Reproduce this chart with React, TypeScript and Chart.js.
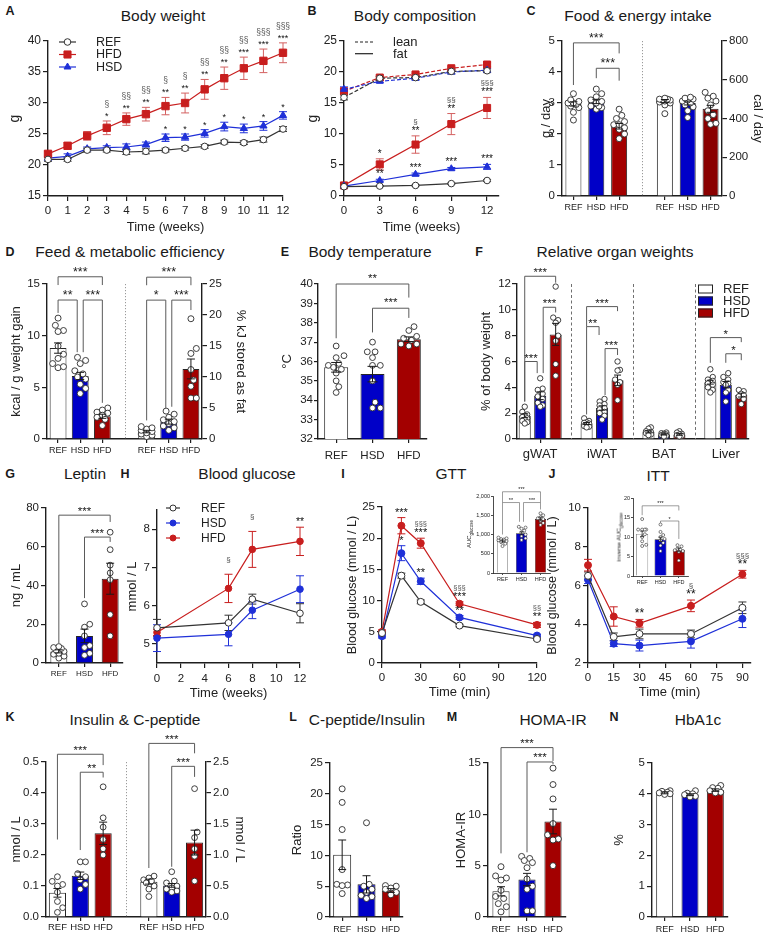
import React, { useEffect, useRef } from 'react';
import { Chart, registerables } from 'chart.js';

Chart.register(...registerables);

const FONT = '"Liberation Sans", Arial, Helvetica, sans-serif';
Chart.defaults.font.family = FONT;
Chart.defaults.color = '#222';

const INK = '#1e1e1e';
const BAR_REF = '#ffffff';
const BAR_HSD = '#0000c8';
const BAR_HFD = '#a30000';
const BAR_HFD_DARK = '#8a0000';
const LN_REF = '#333333';
const LN_HSD = '#1f30d8';
const LN_HFD = '#c81e1e';
const DIET_COLORS = [BAR_REF, BAR_HSD, BAR_HFD];

// ---------------- DATA ----------------
const diets = ['REF', 'HSD', 'HFD'];
const splitLabels = ['REF', 'HSD', 'HFD', '', 'REF', 'HSD', 'HFD'];

// A  Body weight
const weeksA = [0, 1, 2, 3, 4, 5, 6, 7, 8, 9, 10, 11, 12];
const bwREF = [20.9, 20.9, 22.4, 22.4, 22.1, 22.2, 22.4, 22.7, 23.0, 23.7, 23.6, 24.1, 25.8];
const bwREFsem = [0.3, 0.3, 0.3, 0.3, 0.4, 0.4, 0.3, 0.3, 0.3, 0.3, 0.3, 0.4, 0.4];
const bwHFD = [21.8, 23.1, 24.7, 26.0, 27.4, 28.2, 29.5, 30.0, 32.2, 34.0, 35.6, 36.8, 38.1];
const bwHFDsem = [0.4, 0.5, 0.7, 1.1, 1.0, 1.1, 1.4, 1.6, 1.6, 1.8, 1.8, 1.9, 1.6];
const bwHSD = [21.1, 21.4, 22.6, 22.8, 22.9, 23.3, 24.4, 24.5, 25.1, 26.2, 25.9, 26.3, 28.0];
const bwHSDsem = [0.3, 0.4, 0.3, 0.3, 0.5, 0.4, 0.6, 0.5, 0.6, 0.7, 0.7, 0.7, 0.6];
const bwStarHFD = ['', '', '', '*', '**', '**', '**', '**', '**', '**', '***', '***', '***'];
const bwSectHFD = ['', '', '', '§', '§§', '§§', '§', '§', '§§', '§§', '§§', '§§§', '§§§'];
const bwStarHSD = ['', '', '', '', '', '', '*', '*', '*', '*', '*', '*', '*'];

// B  Body composition
const weeksB = [0, 3, 6, 9, 12];
const leanREF = [15.9, 19.0, 19.1, 20.1, 20.2];
const leanREFsem = [0.4, 0.3, 0.3, 0.4, 0.3];
const leanHSD = [17.2, 18.5, 19.0, 20.0, 20.3];
const leanHSDsem = [0.4, 0.2, 0.3, 0.3, 0.3];
const leanHFD = [16.9, 19.1, 19.6, 20.6, 21.2];
const leanHFDsem = [0.3, 0.2, 0.2, 0.2, 0.3];
const fatREF = [1.5, 1.6, 1.7, 2.0, 2.5];
const fatREFsem = [0.1, 0.1, 0.1, 0.1, 0.15];
const fatHSD = [1.6, 2.5, 3.5, 4.4, 4.7];
const fatHSDsem = [0.1, 0.2, 0.2, 0.2, 0.4];
const fatHFD = [1.7, 5.1, 8.3, 11.6, 14.2];
const fatHFDsem = [0.2, 0.9, 1.4, 1.7, 1.7];
const fatStarHFD = ['', '*', '**', '**', '***'];
const fatSectHFD = ['', '', '§', '§§', '§§§'];
const fatStarHSD = ['', '**', '***', '***', '***'];

// C  Food & energy intake
const foodG = [2.97, 3.05, 2.25];
const foodGsem = [0.07, 0.07, 0.09];
const foodGDots = [
  [2.45, 2.7, 2.85, 2.9, 2.95, 3.0, 3.0, 3.05, 3.1, 3.3],
  [2.8, 2.85, 2.9, 2.9, 3.0, 3.05, 3.1, 3.2, 3.3, 3.45],
  [1.85, 2.0, 2.15, 2.2, 2.3, 2.3, 2.4, 2.5, 2.6, 2.8],
];
const foodCal = [490, 480, 450];
const foodCalsem = [8, 10, 18];
const foodCalDots = [
  [425, 470, 480, 485, 490, 495, 495, 500, 500, 505],
  [405, 440, 460, 470, 480, 490, 495, 500, 505, 510],
  [370, 375, 400, 420, 440, 470, 490, 505, 515, 535],
];
const cBrackets = [
  { a: [0, 0], b: [0, 2], y: 4.94, la: 3.58, lb: 4.6, t: '***' },
  { a: [0, 1], b: [0, 2], y: 4.12, la: 3.8, lb: 3.72, t: '***' },
];

// D  Feed & metabolic efficiency
const feedEff = [8.8, 6.1, 2.2];
const feedEffsem = [0.5, 0.35, 0.2];
const feedEffDots = [
  [11.7, 11.0, 10.5, 10.4, 9.0, 8.2, 7.8, 7.3, 6.9, 7.0],
  [7.9, 7.6, 7.3, 6.6, 6.3, 6.0, 5.8, 5.3, 4.9, 4.4],
  [3.0, 2.8, 2.6, 2.5, 2.3, 2.1, 1.9, 1.3],
];
const kjFat = [1.2, 2.8, 11.3];
const kjFatsem = [0.2, 0.4, 1.6];
const kjFatDots = [
  [0.4, 0.6, 0.8, 1.0, 1.2, 1.4, 1.6, 1.8, 2.0],
  [1.4, 1.8, 2.1, 2.5, 2.8, 3.1, 3.5, 4.0, 4.5],
  [19.4, 14.6, 13.8, 11.2, 9.5, 8.5, 6.6, 6.6],
];
const dBrackets = [
  { a: [0, 0], b: [0, 2], y: 15.7, la: 14.9, lb: 14.9, t: '***' },
  { a: [0, 0], b: [0, 1], y: 13.45, la: 12.2, lb: 8.4, t: '**' },
  { a: [0, 1], b: [0, 2], y: 13.45, la: 8.4, lb: 3.5, t: '***' },
  { a: [1, 4], b: [1, 6], y: 26.1, la: 24.8, lb: 24.8, t: '***', ax: 'y1' },
  { a: [1, 4], b: [1, 5], y: 22.4, la: 3.0, lb: 5.0, t: '*', ax: 'y1' },
  { a: [1, 5], b: [1, 6], y: 22.4, la: 5.2, lb: 20.8, t: '***', ax: 'y1' },
];

// E  Body temperature
const temp = [35.7, 35.35, 37.15];
const tempsem = [0.25, 0.4, 0.12];
const tempDots = [
  [36.8, 36.3, 36.2, 35.9, 35.8, 35.7, 35.6, 35.4, 35.0, 34.7, 34.4],
  [37.0, 36.5, 36.5, 36.2, 35.8, 35.8, 35.0, 33.9, 33.6, 33.6],
  [37.8, 37.6, 37.3, 37.2, 37.1, 36.9, 36.9, 36.8],
];
const eBrackets = [
  { a: [0, 0], b: [0, 2], y: 40.0, la: 37.2, lb: 39.3, t: '**' },
  { a: [0, 1], b: [0, 2], y: 38.75, la: 37.5, lb: 38.25, t: '***' },
];

// F  Relative organ weights
const organs = ['gWAT', 'iWAT', 'BAT', 'Liver'];
const orgREF = [1.8, 1.2, 0.55, 4.4];
const orgREFsem = [0.15, 0.08, 0.08, 0.15];
const orgHSD = [3.35, 2.4, 0.35, 4.2];
const orgHSDsem = [0.3, 0.17, 0.04, 0.25];
const orgHFD = [8.1, 4.55, 0.35, 3.4];
const orgHFDsem = [0.85, 0.4, 0.06, 0.15];
const orgREFDots = [
  [2.5, 2.1, 1.9, 1.8, 1.7, 1.6, 1.5, 1.4, 1.3, 1.2],
  [1.6, 1.4, 1.3, 1.25, 1.2, 1.1, 1.0, 0.95, 0.9],
  [0.9, 0.8, 0.6, 0.55, 0.5, 0.45, 0.35, 0.3],
  [5.4, 4.8, 4.6, 4.5, 4.4, 4.3, 4.2, 4.0, 3.8, 3.6],
];
const orgHSDDots = [
  [4.7, 3.9, 3.8, 3.5, 3.3, 3.1, 2.8, 2.6, 2.5],
  [3.1, 2.9, 2.7, 2.6, 2.4, 2.3, 2.1, 2.0, 1.8, 1.5],
  [0.5, 0.45, 0.4, 0.35, 0.3, 0.3, 0.25, 0.2],
  [5.1, 4.8, 4.6, 4.4, 4.3, 4.2, 3.8, 3.6, 2.9],
];
const orgHFDDots = [
  [11.8, 9.4, 9.2, 9.0, 8.0, 7.6, 5.8, 4.9],
  [6.0, 5.35, 5.3, 4.6, 4.4, 4.2, 3.0],
  [0.6, 0.5, 0.4, 0.35, 0.3, 0.25, 0.2],
  [3.8, 3.7, 3.5, 3.4, 3.3, 3.1, 2.7],
];
// bracket ends as [diet index, organ index]
const fBrackets = [
  { a: [0, 0], b: [2, 0], y: 12.6, la: 2.9, lb: 12.1, t: '***' },
  { a: [1, 0], b: [2, 0], y: 10.2, la: 5.1, lb: 9.8, t: '***' },
  { a: [0, 0], b: [1, 0], y: 6.0, la: 2.9, lb: 5.1, t: '***' },
  { a: [0, 1], b: [2, 1], y: 10.25, la: 8.7, lb: 9.9, t: '***' },
  { a: [0, 1], b: [1, 1], y: 8.7, la: 1.9, lb: 8.05, t: '**' },
  { a: [1, 1], b: [2, 1], y: 7.0, la: 3.4, lb: 6.5, t: '***' },
  { a: [0, 3], b: [2, 3], y: 7.85, la: 5.9, lb: 7.5, t: '*' },
  { a: [1, 3], b: [2, 3], y: 6.6, la: 5.9, lb: 6.1, t: '*' },
];

// G  Leptin
const leptin = [6.0, 14.0, 43.5];
const leptinsem = [0.8, 3.5, 8.0];
const leptinDots = [
  [2.5, 3.5, 4.5, 5.0, 6.0, 6.5, 7.5, 8.0, 8.5],
  [30.5, 20.0, 18.5, 14.0, 9.0, 8.0, 5.0, 4.0],
  [67.5, 58.5, 50.5, 46.5, 43.0, 25.0, 14.0],
];
const gBrackets = [
  { a: [0, 0], b: [0, 2], y: 76.3, la: 10.3, lb: 72.8, t: '***' },
  { a: [0, 1], b: [0, 2], y: 65, la: 33.5, lb: 62.5, t: '***' },
];

// H  Blood glucose
const weeksH = [0, 6, 8, 12];
const bgREF = [5.42, 5.55, 6.17, 5.8];
const bgREFsem = [0.22, 0.2, 0.13, 0.25];
const bgHSD = [5.15, 5.25, 5.88, 6.43];
const bgHSDsem = [0.35, 0.3, 0.22, 0.35];
const bgHFD = [5.3, 6.45, 7.47, 7.68];
const bgHFDsem = [0.08, 0.37, 0.47, 0.37];
const bgStarHFD = ['', '', '', '**'];
const bgSectHFD = ['', '§', '§', ''];

// I  GTT
const tGTT = [0, 15, 30, 60, 120];
const gttREF = [4.8, 14.0, 9.8, 6.0, 3.85];
const gttREFsem = [0.2, 0.4, 0.3, 0.2, 0.2];
const gttHSD = [4.3, 17.6, 13.1, 7.3, 4.4];
const gttHSDsem = [0.3, 1.2, 0.5, 0.3, 0.2];
const gttHFD = [5.0, 22.0, 19.2, 9.5, 6.1];
const gttHFDsem = [0.3, 1.3, 0.8, 0.3, 0.4];
const gttStarHFD = ['', '***', '***', '***', '**'];
const gttSectHFD = ['', '', '§§§', '§§§', '§§'];
const gttStarHSD = ['', '*', '**', '**', ''];
const aucGTT = [830, 1030, 1400];
const aucGTTsem = [30, 40, 50];
const aucGTTDots = [
  [700, 760, 800, 830, 850, 870, 880, 900, 920],
  [860, 900, 960, 1000, 1050, 1100, 1150, 1180, 1200],
  [1250, 1300, 1350, 1400, 1420, 1450, 1500, 1550],
];
const iInBrackets = [
  { a: [0, 0], b: [0, 2], y: 2110, la: 1830, lb: 1830, t: '***' },
  { a: [0, 0], b: [0, 1], y: 1830, la: 1000, lb: 1330, t: '**' },
  { a: [0, 1], b: [0, 2], y: 1830, la: 1330, lb: 1650, t: '***' },
];

// J  ITT
const tITT = [0, 15, 30, 60, 90];
const ittREF = [6.5, 3.35, 3.5, 3.5, 4.85];
const ittREFsem = [0.2, 0.2, 0.25, 0.2, 0.3];
const ittHSD = [6.3, 3.0, 2.9, 3.12, 4.28];
const ittHSDsem = [0.2, 0.15, 0.28, 0.35, 0.45];
const ittHFD = [7.05, 4.4, 4.05, 4.95, 6.58];
const ittHFDsem = [0.3, 0.5, 0.2, 0.3, 0.2];
const ittStarHFD = ['', '', '**', '**', '**'];
const ittSectHFD = ['', '', '', '§', '§§§'];
const invAUC = [10.8, 9.4, 6.7];
const invAUCsem = [0.7, 0.55, 0.45];
const invAUCDots = [
  [14.6, 11.9, 11.9, 11.9, 11.9, 10.7, 10.0, 8.9, 8.0, 7.7],
  [13.2, 11.3, 10.5, 10.0, 9.5, 9.1, 8.5, 7.8, 6.4],
  [7.9, 7.6, 7.0, 6.8, 6.6, 6.4, 6.2, 4.0],
];
const jInBrackets = [
  { a: [0, 0], b: [0, 2], y: 18.0, la: 15.6, lb: 16.8, t: '***' },
  { a: [0, 1], b: [0, 2], y: 14.1, la: 13.6, lb: 9.5, t: '*' },
];

// K  Insulin & C-peptide
const insulin = [0.078, 0.133, 0.27];
const insulinsem = [0.014, 0.012, 0.036];
const insulinDots = [
  [0.13, 0.115, 0.105, 0.1, 0.08, 0.05, 0.03, 0.015],
  [0.178, 0.178, 0.14, 0.13, 0.12, 0.105, 0.09],
  [0.42, 0.32, 0.29, 0.25, 0.22, 0.2],
];
const cpep = [0.57, 0.51, 1.2];
const cpepsem = [0.04, 0.03, 0.2];
const cpepDots = [
  [0.66, 0.63, 0.6, 0.58, 0.55, 0.5, 0.45, 0.33],
  [0.73, 0.58, 0.55, 0.5, 0.47, 0.45, 0.42, 0.4],
  [2.07, 1.37, 1.28, 1.1, 0.98, 0.58],
];
const kBrackets = [
  { a: [0, 0], b: [0, 2], y: 0.525, la: 0.25, lb: 0.49, t: '***' },
  { a: [0, 1], b: [0, 2], y: 0.467, la: 0.216, lb: 0.45, t: '**' },
  { a: [1, 4], b: [1, 6], y: 2.8, la: 0.79, lb: 2.64, t: '***', ax: 'y1' },
  { a: [1, 5], b: [1, 6], y: 2.43, la: 0.81, lb: 2.26, t: '***', ax: 'y1' },
];

// L  C-peptide/Insulin
const ratio = [10.1, 5.3, 4.3];
const ratiosem = [2.4, 1.4, 0.3];
const ratioDots = [
  [20.8, 18.6, 14.2, 7.7, 5.3, 5.2, 5.1, 3.8],
  [15.3, 5.3, 5.0, 4.5, 4.0, 3.5, 3.3, 3.0],
  [5.1, 5.0, 4.7, 4.5, 4.0, 3.6],
];

// M  HOMA-IR
const homa = [2.5, 3.65, 9.3];
const homasem = [0.45, 0.6, 1.2];
const homaDots = [
  [4.9, 4.0, 3.8, 3.6, 2.6, 2.0, 1.8, 1.3, 1.0, 0.5],
  [5.9, 5.7, 5.5, 5.3, 4.8, 3.7, 3.0, 2.7, 0.6, 0.6],
  [14.5, 12.9, 11.5, 9.1, 8.0, 7.6, 7.5, 5.0],
];
const mBrackets = [
  { a: [0, 0], b: [0, 2], y: 16.5, la: 6.2, lb: 15.2, t: '***' },
  { a: [0, 1], b: [0, 2], y: 15.1, la: 6.3, lb: 14.9, t: '***' },
];

// N  HbA1c
const hba1c = [4.03, 3.97, 4.12];
const hba1csem = [0.03, 0.03, 0.04];
const hba1cDots = [
  [4.1, 4.08, 4.05, 4.03, 4.0, 3.98],
  [4.1, 4.02, 4.0, 3.97, 3.92, 3.9],
  [4.27, 4.2, 4.18, 4.1, 4.05, 4.03],
];

// ---------------- LAYOUT ----------------
type Geo = { l: number; t: number; r: number; b: number; cl: number; ct: number; cr: number; cb: number; right?: boolean };

const gA: Geo = { l: 48, t: 41, r: 283, b: 196, cl: 7, ct: 14, cr: 300, cb: 235 };
const gB: Geo = { l: 344, t: 41, r: 499, b: 196, cl: 305, ct: 14, cr: 512, cb: 235 };
const gC: Geo = { l: 562, t: 41, r: 722, b: 196, cl: 539, ct: 22, cr: 765, cb: 216, right: true };
const gD: Geo = { l: 47, t: 284, r: 202, b: 439, cl: 9, ct: 258, cr: 248, cb: 458, right: true };
const gE: Geo = { l: 318, t: 284, r: 427, b: 439, cl: 280, ct: 260, cr: 440, cb: 464 };
const gF: Geo = { l: 517, t: 284, r: 749, b: 439, cl: 479, ct: 258, cr: 764, cb: 466 };
const gG: Geo = { l: 46, t: 508, r: 123, b: 663, cl: 9, ct: 494, cr: 132, cb: 684 };
const gH: Geo = { l: 157, t: 510, r: 300, b: 663, cl: 125, ct: 494, cr: 314, cb: 701 };
const gI: Geo = { l: 382, t: 507, r: 537, b: 663, cl: 345, ct: 494, cr: 552, cb: 700 };
const gIin: Geo = { l: 493, t: 496, r: 550, b: 573, cl: 476, ct: 484, cr: 556, cb: 588 };
const gJ: Geo = { l: 588, t: 508, r: 751, b: 663, cl: 545, ct: 494, cr: 764, cb: 700 };
const gJin: Geo = { l: 633, t: 498, r: 688, b: 576, cl: 622, ct: 486, cr: 694, cb: 591 };
const gK: Geo = { l: 46, t: 762, r: 206, b: 917, cl: 9, ct: 726, cr: 247, cb: 936, right: true };
const gL: Geo = { l: 330, t: 763, r: 403, b: 917, cl: 290, ct: 740, cr: 414, cb: 936 };
const gM: Geo = { l: 488, t: 763, r: 566, b: 917, cl: 454, ct: 726, cr: 576, cb: 936 };
const gN: Geo = { l: 652, t: 763, r: 728, b: 917, cl: 612, ct: 740, cr: 740, cb: 936 };

// ---------------- HELPERS ----------------
const stepTicks = (min: number, max: number, step: number) => {
  const out: { value: number }[] = [];
  const k0 = Math.ceil(min / step - 1e-9);
  const k1 = Math.floor(max / step + 1e-9);
  for (let k = k0; k <= k1; k++) out.push({ value: +(k * step).toFixed(10) });
  return out;
};
const padRight = (arr: any[]) => [...arr, null, null, null, null];
const padLeft = (arr: any[]) => [null, null, null, null, ...arr];

function yAxis(g: Geo, o: any) {
  const width = o.right ? g.cr - g.r : g.l - g.cl;
  const ticks: any = { stepSize: o.step, font: { size: o.fsize ?? 11 }, color: '#222', padding: o.pad ?? 2 };
  if (o.fmt) ticks.callback = (v: any) => o.fmt(Number(v));
  return {
    type: 'linear',
    position: o.right ? 'right' : 'left',
    min: o.min,
    max: o.max,
    ticks,
    afterBuildTicks: (s: any) => {
      s.ticks = stepTicks(o.min, o.max, o.step);
    },
    grid: { drawOnChartArea: false, drawTicks: true, tickLength: o.tick ?? 5, color: INK, lineWidth: o.bw ?? 1.2 },
    border: { display: true, color: INK, width: o.bw ?? 1.4 },
    title: o.title
      ? { display: true, text: o.title, padding: 0, color: '#222', font: { size: o.tsize ?? 13 } }
      : { display: false },
    afterFit: (s: any) => {
      s.width = width;
    },
  };
}

function xLin(g: Geo, o: any) {
  const h = g.cb - g.b;
  return {
    type: 'linear',
    position: 'bottom',
    offset: false,
    min: o.min,
    max: o.max,
    ticks: { stepSize: o.step, font: { size: o.fsize ?? 11 }, color: '#222', padding: o.pad ?? 3, maxRotation: 0, autoSkip: false },
    afterBuildTicks: (s: any) => {
      s.ticks = stepTicks(o.min, o.max, o.step);
    },
    grid: { drawOnChartArea: false, drawTicks: true, tickLength: o.tick ?? 5, color: INK, lineWidth: 1.2 },
    border: { display: true, color: INK, width: 1.4 },
    title: o.title
      ? { display: true, text: o.title, padding: 0, color: '#222', font: { size: o.tsize ?? 13 } }
      : { display: false },
    afterFit: (s: any) => {
      s.height = h;
    },
  };
}

function xCat(g: Geo, o: any) {
  const h = g.cb - g.b;
  const skip: number[] = o.skip || [];
  return {
    type: 'category',
    offset: true,
    grid: {
      offset: false,
      drawOnChartArea: false,
      drawTicks: true,
      tickLength: o.tick ?? 4,
      lineWidth: o.bw ?? 1.2,
      color: (c: any) => (skip.includes(c.index) ? 'rgba(0,0,0,0)' : INK),
    },
    border: { display: true, color: INK, width: o.bw ?? 1.4 },
    ticks: { font: { size: o.fsize }, color: '#222', autoSkip: false, maxRotation: 0, minRotation: 0, padding: o.pad ?? 1 },
    afterFit: (s: any) => {
      s.height = h;
    },
  };
}

function baseOpts(g: Geo, scales: any) {
  return {
    responsive: false,
    animation: false,
    devicePixelRatio: 1,
    events: [],
    layout: { padding: { left: 0, top: g.t - g.ct, right: g.right ? 0 : g.cr - g.r, bottom: 0 } },
    plugins: { legend: { display: false }, tooltip: { enabled: false }, title: { display: false } },
    scales,
  };
}

function swarm(vals: number[], ppu: number, r: number, maxOff: number): number[] {
  const order = vals.map((_, i) => i).sort((a, b) => vals[a] - vals[b]);
  const placed: { x: number; y: number }[] = [];
  const out = vals.map(() => 0);
  const d = 2 * r + 0.3;
  const step = r * 0.9;
  for (const i of order) {
    const y = vals[i] * ppu;
    let best = 0;
    let bestScore = -1;
    for (let k = 0; k < 40; k++) {
      const m = Math.ceil(k / 2) * step * (k % 2 ? 1 : -1);
      if (Math.abs(m) > maxOff) continue;
      let minD = Infinity;
      for (const p of placed) minD = Math.min(minD, Math.hypot(p.x - m, p.y - y));
      if (minD >= d) {
        best = m;
        bestScore = Infinity;
        break;
      }
      if (minD > bestScore) {
        bestScore = minD;
        best = m;
      }
    }
    placed.push({ x: best, y });
    out[i] = best;
  }
  return out;
}

function drawMarker(ctx: any, style: string, x: number, y: number, r: number, fill: string, stroke: string) {
  ctx.beginPath();
  if (style === 'rect') {
    const s = r * Math.SQRT1_2;
    ctx.rect(x - s, y - s, 2 * s, 2 * s);
  } else if (style === 'triangle') {
    for (let k = 0; k < 3; k++) {
      const a = -Math.PI / 2 + (k * 2 * Math.PI) / 3;
      const px = x + Math.cos(a) * r;
      const py = y + Math.sin(a) * r;
      if (k) ctx.lineTo(px, py);
      else ctx.moveTo(px, py);
    }
    ctx.closePath();
  } else {
    ctx.arc(x, y, r, 0, Math.PI * 2);
  }
  ctx.fillStyle = fill;
  ctx.fill();
  ctx.strokeStyle = stroke;
  ctx.lineWidth = 1;
  ctx.stroke();
}

// ---------------- PLUGINS ----------------
function errPlugin(cap: number, when: string, lw: number) {
  const draw = (chart: any) => {
    const ctx = chart.ctx;
    chart.data.datasets.forEach((ds: any, di: number) => {
      if (!ds.sem) return;
      const meta = chart.getDatasetMeta(di);
      const ys = chart.scales[meta.yAxisID];
      ctx.save();
      ctx.strokeStyle = ds.errColor || '#1a1a1a';
      ctx.lineWidth = lw;
      ds.data.forEach((v: any, i: number) => {
        const val = v !== null && typeof v === 'object' ? v.y : v;
        const s = ds.sem[i];
        if (val === null || val === undefined || s === null || s === undefined) return;
        const el = meta.data[i];
        if (!el) return;
        const x = el.x;
        const y1 = ys.getPixelForValue(val + s);
        const y2 = ys.getPixelForValue(val - s);
        ctx.beginPath();
        ctx.moveTo(x, y1);
        ctx.lineTo(x, y2);
        ctx.moveTo(x - cap, y1);
        ctx.lineTo(x + cap, y1);
        ctx.moveTo(x - cap, y2);
        ctx.lineTo(x + cap, y2);
        ctx.stroke();
      });
      ctx.restore();
    });
  };
  return when === 'before' ? { id: 'errb', beforeDatasetsDraw: draw } : { id: 'erra', afterDatasetsDraw: draw };
}

function bracketPlugin(list: any[], o: any) {
  const font = o.font ?? 11.5;
  const inset = o.inset ?? 3;
  const lw = o.lw ?? 1;
  const same = (p: number[], q: number[]) => p[0] === q[0] && p[1] === q[1];
  return {
    id: 'brk',
    afterDatasetsDraw(chart: any) {
      const ctx = chart.ctx;
      const px = (k: number[]) => chart.getDatasetMeta(k[0]).data[k[1]].x;
      ctx.save();
      ctx.strokeStyle = '#5a5a5a';
      ctx.lineWidth = lw;
      ctx.fillStyle = '#1a1a1a';
      ctx.font = `${font}px ${FONT}`;
      ctx.textAlign = 'center';
      ctx.textBaseline = 'alphabetic';
      for (const br of list) {
        const ys = chart.scales[br.ax || 'y'];
        const offL = list.some((q) => q !== br && same(q.b, br.a)) ? inset : 0;
        const offR = list.some((q) => q !== br && same(q.a, br.b)) ? inset : 0;
        const x1 = px(br.a) + offL;
        const x2 = px(br.b) - offR;
        const yt = ys.getPixelForValue(br.y);
        ctx.beginPath();
        ctx.moveTo(x1, ys.getPixelForValue(br.la));
        ctx.lineTo(x1, yt);
        ctx.lineTo(x2, yt);
        ctx.lineTo(x2, ys.getPixelForValue(br.lb));
        ctx.stroke();
        ctx.fillText(br.t, (x1 + x2) / 2, yt - (o.lift ?? 1));
      }
      ctx.restore();
    },
  };
}

function sepPlugin(vals: number[], dash: number[], color: string, lw: number) {
  return {
    id: 'sep',
    beforeDatasetsDraw(chart: any) {
      const ctx = chart.ctx;
      const s = chart.scales.x;
      const { top, bottom } = chart.chartArea;
      ctx.save();
      ctx.strokeStyle = color;
      ctx.lineWidth = lw;
      ctx.setLineDash(dash);
      for (const v of vals) {
        const x = Math.round(s.getPixelForValue(v)) + 0.5;
        ctx.beginPath();
        ctx.moveTo(x, top);
        ctx.lineTo(x, bottom);
        ctx.stroke();
      }
      ctx.restore();
    },
  };
}

function marksPlugin(marks: any[], gap: number, starSize: number, sectSize: number) {
  return {
    id: 'marks',
    afterDatasetsDraw(chart: any) {
      const ctx = chart.ctx;
      const ys = chart.scales.y;
      ctx.save();
      ctx.textAlign = 'center';
      ctx.textBaseline = 'alphabetic';
      for (const m of marks) {
        const ds: any = chart.data.datasets[m.s];
        const meta = chart.getDatasetMeta(m.s);
        m.rows.forEach((row: string[], i: number) => {
          const p = ds.data[i];
          const top = ys.getPixelForValue(p.y + (ds.sem ? ds.sem[i] : 0));
          const x = meta.data[i].x;
          row.forEach((txt: string, k: number) => {
            if (!txt) return;
            const sect = txt.indexOf('§') >= 0;
            ctx.font = `${sect ? sectSize : starSize}px ${FONT}`;
            ctx.fillStyle = sect ? '#555' : '#111';
            ctx.fillText(txt, x, top - 2 - k * gap);
          });
        });
      }
      ctx.restore();
    },
  };
}

function legendPlugin(items: any[], o: any) {
  return {
    id: 'leg',
    afterDraw(chart: any) {
      const ctx = chart.ctx;
      const ca = chart.chartArea;
      const x0 = o.fromRight ? ca.right - o.x : ca.left + o.x;
      items.forEach((it: any, i: number) => {
        const y = ca.top + o.y + i * o.gap;
        ctx.save();
        if (it.box) {
          ctx.fillStyle = it.fill;
          ctx.fillRect(x0, y - o.bh / 2, o.len, o.bh);
          ctx.strokeStyle = '#222';
          ctx.lineWidth = 1;
          ctx.strokeRect(x0 + 0.5, y - o.bh / 2 + 0.5, o.len - 1, o.bh - 1);
        } else {
          ctx.strokeStyle = it.color;
          ctx.lineWidth = 1.2;
          ctx.setLineDash(it.dash || []);
          ctx.beginPath();
          ctx.moveTo(x0, y);
          ctx.lineTo(x0 + o.len, y);
          ctx.stroke();
          ctx.setLineDash([]);
          if (it.style) drawMarker(ctx, it.style, x0 + o.len / 2, y, it.r, it.fill, it.color);
        }
        ctx.fillStyle = '#222';
        ctx.font = `${o.font}px ${FONT}`;
        ctx.textAlign = 'left';
        ctx.textBaseline = 'middle';
        ctx.fillText(it.label, x0 + o.tx, y + 0.5);
        ctx.restore();
      });
    },
  };
}

// ---------------- BUILDERS ----------------
function barChart(o: any) {
  const n = o.labels.length;
  const pxCat = (o.g.r - o.g.l) / n;
  const halfBar = pxCat * o.barPct * 0.5;
  const datasets: any[] = o.bars.map((b: any) => ({
    type: 'bar',
    data: b.vals,
    sem: b.sem,
    backgroundColor: b.colors,
    borderColor: '#262626',
    borderWidth: o.bbw ?? 1,
    xAxisID: 'x',
    yAxisID: b.axis,
    barPercentage: o.barPct,
    categoryPercentage: 1,
    grouped: false,
    order: 3,
  }));
  o.dots.forEach((d: any) => {
    const sc = o.scales[d.axis];
    const ppu = (o.g.b - o.g.t) / (sc.max - sc.min);
    const offs = swarm(d.vals, ppu, o.dotR, Math.max(halfBar - o.dotR * 0.7, o.dotR));
    datasets.push({
      type: 'scatter',
      data: d.vals.map((v: number, i: number) => ({ x: d.x + offs[i] / pxCat, y: v })),
      xAxisID: 'xs',
      yAxisID: d.axis,
      showLine: false,
      pointRadius: o.dotR,
      pointBackgroundColor: '#ffffff',
      pointBorderColor: '#2a2a2a',
      pointBorderWidth: o.dbw ?? 0.9,
      order: 1,
      clip: false,
    });
  });
  const scales = {
    ...o.scales,
    xs: { type: 'linear', display: false, offset: false, grace: 0, bounds: 'data', min: -0.5, max: n - 0.5 },
  };
  return {
    type: 'bar',
    data: { labels: o.labels, datasets },
    options: baseOpts(o.g, scales),
    plugins: [errPlugin(o.cap, 'after', o.ebw ?? 1), bracketPlugin(o.brackets || [], o.bf || {}), ...(o.extra || [])],
  };
}

function lineChart(o: any) {
  const datasets = o.series.map((s: any) => ({
    type: 'scatter',
    showLine: true,
    data: s.x.map((x: number, i: number) => ({ x, y: s.y[i] })),
    sem: s.sem,
    errColor: s.err || s.color,
    borderColor: s.color,
    borderWidth: s.bw ?? 1.2,
    borderDash: s.dash || [],
    pointStyle: s.style,
    pointRadius: s.r,
    pointBackgroundColor: s.fill,
    pointBorderColor: s.color,
    pointBorderWidth: 1,
    tension: 0,
    xAxisID: 'x',
    yAxisID: 'y',
    clip: false,
  }));
  return {
    type: 'scatter',
    data: { datasets },
    options: baseOpts(o.g, o.scales),
    plugins: [errPlugin(o.cap, 'before', 1), marksPlugin(o.marks || [], o.gap, o.starSize, o.sectSize), ...(o.extra || [])],
  };
}

function dietDots(dots: number[][], axis: string, start: number) {
  return dots.map((vals, i) => ({ x: start + i, vals, axis }));
}

function simpleBars(g: Geo, vals: number[], sem: number[], dots: number[][], y: any, o: any) {
  return barChart({
    g,
    labels: diets,
    bars: [{ vals, sem, colors: DIET_COLORS, axis: 'y' }],
    dots: dietDots(dots, 'y', 0),
    scales: { x: xCat(g, { fsize: o.xf, pad: o.xpad, tick: o.xtick, bw: o.bw }), y },
    barPct: o.barPct,
    dotR: o.dotR,
    cap: o.cap,
    brackets: o.brackets,
    bf: o.bf,
    bbw: o.bbw,
    dbw: o.dbw,
    ebw: o.ebw,
  });
}

// ---------------- CHART CONFIGS ----------------
const fmt1 = (v: number) => v.toFixed(1);

function cfgA() {
  return lineChart({
    g: gA,
    series: [
      { x: weeksA, y: bwREF, sem: bwREFsem, color: LN_REF, fill: '#ffffff', style: 'circle', r: 3.3 },
      { x: weeksA, y: bwHFD, sem: bwHFDsem, color: LN_HFD, fill: LN_HFD, style: 'rect', r: 5.2, err: '#d46060' },
      { x: weeksA, y: bwHSD, sem: bwHSDsem, color: LN_HSD, fill: LN_HSD, style: 'triangle', r: 4.2 },
    ],
    scales: {
      x: xLin(gA, { min: 0, max: 12, step: 1, title: 'Time (weeks)', fsize: 11.5, pad: 3 }),
      y: yAxis(gA, { min: 15, max: 40, step: 5, title: 'g', tsize: 14, fsize: 12 }),
    },
    cap: 4,
    gap: 12,
    starSize: 9,
    sectSize: 8.5,
    marks: [
      { s: 1, rows: bwStarHFD.map((s, i) => [s, bwSectHFD[i]]) },
      { s: 2, rows: bwStarHSD.map((s) => [s]) },
    ],
    extra: [
      legendPlugin(
        [
          { label: 'REF', color: LN_REF, fill: '#ffffff', style: 'circle', r: 3.3 },
          { label: 'HFD', color: LN_HFD, fill: LN_HFD, style: 'rect', r: 5 },
          { label: 'HSD', color: LN_HSD, fill: LN_HSD, style: 'triangle', r: 4 },
        ],
        { x: 11, y: 1, gap: 12.5, len: 17, tx: 37, font: 12.5 }
      ),
    ],
  });
}

function cfgB() {
  return lineChart({
    g: gB,
    series: [
      { x: weeksB, y: leanREF, sem: leanREFsem, color: LN_REF, fill: '#ffffff', style: 'circle', r: 3.3, dash: [4, 2] },
      { x: weeksB, y: leanHSD, sem: leanHSDsem, color: LN_HSD, fill: LN_HSD, style: 'triangle', r: 4, dash: [4, 2] },
      { x: weeksB, y: leanHFD, sem: leanHFDsem, color: LN_HFD, fill: LN_HFD, style: 'rect', r: 5, dash: [4, 2], err: '#d46060' },
      { x: weeksB, y: fatREF, sem: fatREFsem, color: LN_REF, fill: '#ffffff', style: 'circle', r: 3.3 },
      { x: weeksB, y: fatHSD, sem: fatHSDsem, color: LN_HSD, fill: LN_HSD, style: 'triangle', r: 4 },
      { x: weeksB, y: fatHFD, sem: fatHFDsem, color: LN_HFD, fill: LN_HFD, style: 'rect', r: 5, err: '#d46060' },
    ],
    scales: {
      x: xLin(gB, { min: 0, max: 13, step: 3, title: 'Time (weeks)', fsize: 11.5, pad: 3 }),
      y: yAxis(gB, { min: 0, max: 25, step: 5, title: 'g', tsize: 14, fsize: 12 }),
    },
    cap: 4,
    gap: 10,
    starSize: 10,
    sectSize: 8,
    marks: [
      { s: 5, rows: fatStarHFD.map((s, i) => [s, fatSectHFD[i]]) },
      { s: 4, rows: fatStarHSD.map((s) => [s]) },
    ],
    extra: [
      legendPlugin(
        [
          { label: 'lean', color: '#222', dash: [3, 2] },
          { label: 'fat', color: '#222' },
        ],
        { x: 11, y: 1, gap: 11.7, len: 18, tx: 38, font: 13 }
      ),
    ],
  });
}

function cfgC() {
  return barChart({
    g: gC,
    labels: splitLabels,
    bars: [
      { vals: padRight(foodG), sem: padRight(foodGsem), colors: padRight(DIET_COLORS), axis: 'y' },
      { vals: padLeft(foodCal), sem: padLeft(foodCalsem), colors: padLeft([BAR_REF, BAR_HSD, BAR_HFD_DARK]), axis: 'y1' },
    ],
    dots: [...dietDots(foodGDots, 'y', 0), ...dietDots(foodCalDots, 'y1', 4)],
    scales: {
      x: xCat(gC, { fsize: 9, skip: [3], pad: 2 }),
      y: yAxis(gC, { min: 0, max: 5, step: 1, title: 'g / day', fsize: 11.5 }),
      y1: yAxis(gC, { min: 0, max: 800, step: 200, title: 'cal / day', right: true, fsize: 11.5 }),
    },
    barPct: 0.7,
    dotR: 3,
    cap: 4,
    brackets: cBrackets,
    bf: { font: 12.5 },
    extra: [sepPlugin([3], [1.2, 1.8], '#9a9a9a', 1)],
  });
}

function cfgD() {
  return barChart({
    g: gD,
    labels: splitLabels,
    bars: [
      { vals: padRight(feedEff), sem: padRight(feedEffsem), colors: padRight(DIET_COLORS), axis: 'y' },
      { vals: padLeft(kjFat), sem: padLeft(kjFatsem), colors: padLeft(DIET_COLORS), axis: 'y1' },
    ],
    dots: [...dietDots(feedEffDots, 'y', 0), ...dietDots(kjFatDots, 'y1', 4)],
    scales: {
      x: xCat(gD, { fsize: 9, skip: [3], pad: 2 }),
      y: yAxis(gD, { min: 0, max: 15, step: 5, title: 'kcal / g weight gain', fsize: 11.5 }),
      y1: yAxis(gD, { min: 0, max: 25, step: 5, title: '% kJ stored as fat', right: true, fsize: 11.5 }),
    },
    barPct: 0.76,
    dotR: 3,
    cap: 4,
    brackets: dBrackets,
    bf: { font: 12.5 },
    extra: [sepPlugin([3], [1.2, 1.8], '#9a9a9a', 1)],
  });
}

function cfgE() {
  return simpleBars(gE, temp, tempsem, tempDots, yAxis(gE, { min: 32, max: 40, step: 1, title: '°C', fsize: 11.5, tick: 4, pad: 1 }), {
    xf: 11.5,
    xpad: 6,
    barPct: 0.66,
    dotR: 2.9,
    cap: 5,
    brackets: eBrackets,
    bf: { font: 11.5, lift: 2 },
  });
}

function cfgF() {
  // 4 organ blocks of 3 bars, separated by an empty slot
  const labels: string[] = [];
  const vals: (number | null)[] = [];
  const sem: (number | null)[] = [];
  const colors: string[] = [];
  const means = [orgREF, orgHSD, orgHFD];
  const sems = [orgREFsem, orgHSDsem, orgHFDsem];
  organs.forEach((name, c) => {
    if (c > 0) {
      labels.push('');
      vals.push(null);
      sem.push(null);
      colors.push('#fff');
    }
    for (let gi = 0; gi < 3; gi++) {
      labels.push(gi === 1 ? name : ' ');
      vals.push(means[gi][c]);
      sem.push(sems[gi][c]);
      colors.push(DIET_COLORS[gi]);
    }
  });
  const idx = (gi: number, c: number) => 4 * c + gi;
  const dots: any[] = [];
  [orgREFDots, orgHSDDots, orgHFDDots].forEach((grp, gi) => {
    grp.forEach((v, c) => dots.push({ x: idx(gi, c), vals: v, axis: 'y' }));
  });
  const brackets = fBrackets.map((b) => ({ ...b, a: [0, idx(b.a[0], b.a[1])], b: [0, idx(b.b[0], b.b[1])] }));
  const skip = labels.map((l, i) => (l.trim() === '' ? i : -1)).filter((i) => i >= 0);
  return barChart({
    g: gF,
    labels,
    bars: [{ vals, sem, colors, axis: 'y' }],
    dots,
    scales: {
      x: xCat(gF, { fsize: 13, pad: 4, skip }),
      y: yAxis(gF, { min: 0, max: 12, step: 2, title: '% of body weight', fsize: 11.5, pad: 1 }),
    },
    barPct: 0.78,
    dotR: 2.7,
    cap: 3.5,
    brackets,
    bf: { font: 11.5, lift: 0 },
    extra: [
      sepPlugin([3, 7, 11], [3, 2.5], '#707070', 1),
      legendPlugin(
        [
          { label: 'REF', box: true, fill: BAR_REF },
          { label: 'HSD', box: true, fill: BAR_HSD },
          { label: 'HFD', box: true, fill: BAR_HFD },
        ],
        { fromRight: true, x: 51, y: 5, gap: 12, len: 15, bh: 9, tx: 25, font: 13 }
      ),
    ],
  });
}

function cfgG() {
  return simpleBars(gG, leptin, leptinsem, leptinDots, yAxis(gG, { min: 0, max: 80, step: 20, title: 'ng / mL', fsize: 11.5 }), {
    xf: 8,
    xpad: 2,
    barPct: 0.66,
    dotR: 2.9,
    cap: 4,
    brackets: gBrackets,
    bf: { font: 11.5, lift: 0.5 },
  });
}

function cfgH() {
  return lineChart({
    g: gH,
    series: [
      { x: weeksH, y: bgREF, sem: bgREFsem, color: LN_REF, fill: '#ffffff', style: 'circle', r: 3.3 },
      { x: weeksH, y: bgHSD, sem: bgHSDsem, color: LN_HSD, fill: LN_HSD, style: 'circle', r: 3.3 },
      { x: weeksH, y: bgHFD, sem: bgHFDsem, color: LN_HFD, fill: LN_HFD, style: 'circle', r: 3.3 },
    ],
    scales: {
      x: xLin(gH, { min: 0, max: 12, step: 2, title: 'Time (weeks)', fsize: 11.5, pad: 4 }),
      y: yAxis(gH, { min: 4.5, max: 8.5, step: 1, title: 'mmol / L', fsize: 11.5 }),
    },
    cap: 4,
    gap: 10,
    starSize: 10.5,
    sectSize: 8,
    marks: [{ s: 2, rows: bgStarHFD.map((s, i) => [s, bgSectHFD[i]]) }],
    extra: [
      legendPlugin(
        [
          { label: 'REF', color: LN_REF, fill: '#ffffff', style: 'circle', r: 3 },
          { label: 'HSD', color: LN_HSD, fill: LN_HSD, style: 'circle', r: 3 },
          { label: 'HFD', color: LN_HFD, fill: LN_HFD, style: 'circle', r: 3 },
        ],
        { x: 9, y: -2, gap: 15, len: 14, tx: 35, font: 12 }
      ),
    ],
  });
}

function cfgI() {
  return lineChart({
    g: gI,
    series: [
      { x: tGTT, y: gttREF, sem: gttREFsem, color: LN_REF, fill: '#ffffff', style: 'circle', r: 3.5 },
      { x: tGTT, y: gttHSD, sem: gttHSDsem, color: LN_HSD, fill: LN_HSD, style: 'circle', r: 3.5 },
      { x: tGTT, y: gttHFD, sem: gttHFDsem, color: LN_HFD, fill: LN_HFD, style: 'circle', r: 3.5 },
    ],
    scales: {
      x: xLin(gI, { min: 0, max: 120, step: 30, title: 'Time (min)', fsize: 11.5, pad: 3 }),
      y: yAxis(gI, { min: 0, max: 25, step: 5, title: 'Blood glucose (mmol / L)', tsize: 12.5, fsize: 11.5 }),
    },
    cap: 4,
    gap: 10,
    starSize: 11,
    sectSize: 7.5,
    marks: [
      { s: 2, rows: gttStarHFD.map((s, i) => [s, gttSectHFD[i]]) },
      { s: 1, rows: gttStarHSD.map((s) => [s]) },
    ],
  });
}

function cfgIin() {
  return simpleBars(
    gIin,
    aucGTT,
    aucGTTsem,
    aucGTTDots,
    yAxis(gIin, { min: 0, max: 2000, step: 500, fsize: 5.5, tick: 2, pad: 1, bw: 0.8 }),
    { xf: 5.5, xpad: 1, xtick: 2, bw: 0.8, barPct: 0.58, dotR: 1.5, cap: 2, brackets: iInBrackets, bf: { font: 5.5, lw: 0.6, inset: 2, lift: 0.5 }, bbw: 0.6, dbw: 0.6, ebw: 0.7 }
  );
}

function cfgJ() {
  return lineChart({
    g: gJ,
    series: [
      { x: tITT, y: ittREF, sem: ittREFsem, color: LN_REF, fill: '#ffffff', style: 'circle', r: 3.5 },
      { x: tITT, y: ittHSD, sem: ittHSDsem, color: LN_HSD, fill: LN_HSD, style: 'circle', r: 3.5 },
      { x: tITT, y: ittHFD, sem: ittHFDsem, color: LN_HFD, fill: LN_HFD, style: 'circle', r: 3.5 },
    ],
    scales: {
      x: xLin(gJ, { min: 0, max: 95, step: 15, title: 'Time (min)', fsize: 11.5, pad: 3 }),
      y: yAxis(gJ, { min: 2, max: 10, step: 2, title: 'Blood glucose (mmol / L)', tsize: 12.5, fsize: 11.5 }),
    },
    cap: 4,
    gap: 10,
    starSize: 12,
    sectSize: 8,
    marks: [{ s: 2, rows: ittStarHFD.map((s, i) => [s, ittSectHFD[i]]) }],
  });
}

function cfgJin() {
  return simpleBars(
    gJin,
    invAUC,
    invAUCsem,
    invAUCDots,
    yAxis(gJin, { min: 0, max: 20, step: 5, fsize: 5.5, tick: 2, pad: 1, bw: 0.8 }),
    { xf: 5.5, xpad: 1, xtick: 2, bw: 0.8, barPct: 0.65, dotR: 1.5, cap: 2, brackets: jInBrackets, bf: { font: 5.5, lw: 0.6, inset: 2, lift: 0.5 }, bbw: 0.6, dbw: 0.6, ebw: 0.7 }
  );
}

function cfgK() {
  return barChart({
    g: gK,
    labels: splitLabels,
    bars: [
      { vals: padRight(insulin), sem: padRight(insulinsem), colors: padRight(DIET_COLORS), axis: 'y' },
      { vals: padLeft(cpep), sem: padLeft(cpepsem), colors: padLeft(DIET_COLORS), axis: 'y1' },
    ],
    dots: [...dietDots(insulinDots, 'y', 0), ...dietDots(cpepDots, 'y1', 4)],
    scales: {
      x: xCat(gK, { fsize: 9.5, skip: [3], pad: 1 }),
      y: yAxis(gK, { min: 0, max: 0.5, step: 0.1, title: 'nmol / L', fsize: 11.5, fmt: fmt1 }),
      y1: yAxis(gK, { min: 0, max: 2.5, step: 0.5, title: 'nmol / L', right: true, fsize: 11.5, fmt: fmt1 }),
    },
    barPct: 0.75,
    dotR: 2.9,
    cap: 4,
    brackets: kBrackets,
    bf: { font: 11.5, lift: 0.5 },
    extra: [sepPlugin([3], [1.2, 1.8], '#9a9a9a', 1)],
  });
}

function cfgL() {
  return simpleBars(gL, ratio, ratiosem, ratioDots, yAxis(gL, { min: 0, max: 25, step: 5, title: 'Ratio', fsize: 11.5 }), {
    xf: 9,
    xpad: 3,
    barPct: 0.74,
    dotR: 3,
    cap: 4,
    brackets: [],
  });
}

function cfgM() {
  return simpleBars(gM, homa, homasem, homaDots, yAxis(gM, { min: 0, max: 15, step: 5, title: 'HOMA-IR', fsize: 11.5 }), {
    xf: 9.5,
    xpad: 3,
    barPct: 0.66,
    dotR: 3,
    cap: 4,
    brackets: mBrackets,
    bf: { font: 11.5, lift: 0.5 },
  });
}

function cfgN() {
  return simpleBars(gN, hba1c, hba1csem, hba1cDots, yAxis(gN, { min: 0, max: 5, step: 1, title: '%', fsize: 11.5 }), {
    xf: 9,
    xpad: 3,
    barPct: 0.67,
    dotR: 3,
    cap: 4,
    brackets: [],
  });
}

// ---------------- COMPONENTS ----------------
function Plot({ g, cfg }: { g: Geo; cfg: () => any }) {
  const ref = useRef<HTMLCanvasElement>(null);
  useEffect(() => {
    const chart = new Chart(ref.current as HTMLCanvasElement, cfg());
    return () => chart.destroy();
  }, []);
  const w = Math.round(g.cr - g.cl);
  const h = Math.round(g.cb - g.ct);
  return (
    <canvas
      ref={ref}
      width={w}
      height={h}
      style={{ position: 'absolute', left: g.cl, top: g.ct, width: w, height: h }}
    />
  );
}

const LETTERS = [
  ['A', 10, 11], ['B', 312, 11], ['C', 531, 11],
  ['D', 10, 252], ['E', 285, 252], ['F', 479, 252],
  ['G', 10, 474], ['H', 125, 474], ['I', 343, 474], ['J', 552, 474],
  ['K', 10, 717], ['L', 293, 717], ['M', 452, 717], ['N', 614, 717],
];
const TITLES = [
  ['Body weight', 163, 16], ['Body composition', 415, 16], ['Food & energy intake', 638, 16],
  ['Feed & metabolic efficiency', 130, 252], ['Body temperature', 370, 252], ['Relative organ weights', 615, 252],
  ['Leptin', 85, 474], ['Blood glucose', 247, 474], ['GTT', 451, 474], ['ITT', 658, 476],
  ['Insulin & C-peptide', 135, 720], ['C-peptide/Insulin', 367, 720], ['HOMA-IR', 553, 720], ['HbA1c', 698, 720],
];

function Txt({ x, y, size, bold, rotate, children }: any) {
  return (
    <div
      style={{
        position: 'absolute',
        left: x,
        top: y,
        transform: `translate(-50%, -50%)${rotate ? ' rotate(-90deg)' : ''}`,
        fontSize: size,
        fontWeight: bold ? 700 : 400,
        whiteSpace: 'nowrap',
        lineHeight: 1,
        color: '#1a1a1a',
      }}
    >
      {children}
    </div>
  );
}

export default function App() {
  return (
    <div
      style={{
        position: 'absolute',
        left: 0,
        top: 0,
        width: 767,
        height: 937,
        background: '#ffffff',
        fontFamily: FONT,
        overflow: 'hidden',
      }}
    >
      {LETTERS.map(([t, x, y]) => (
        <Txt key={'l' + t} x={x} y={y} size={12.5} bold>
          {t}
        </Txt>
      ))}
      {TITLES.map(([t, x, y]) => (
        <Txt key={'t' + t} x={x} y={y} size={15.5}>
          {t}
        </Txt>
      ))}
      <Plot g={gA} cfg={cfgA} />
      <Plot g={gB} cfg={cfgB} />
      <Plot g={gC} cfg={cfgC} />
      <Plot g={gD} cfg={cfgD} />
      <Plot g={gE} cfg={cfgE} />
      <Plot g={gF} cfg={cfgF} />
      <Plot g={gG} cfg={cfgG} />
      <Plot g={gH} cfg={cfgH} />
      <Plot g={gI} cfg={cfgI} />
      <Plot g={gJ} cfg={cfgJ} />
      <Plot g={gIin} cfg={cfgIin} />
      <Plot g={gJin} cfg={cfgJin} />
      <Plot g={gK} cfg={cfgK} />
      <Plot g={gL} cfg={cfgL} />
      <Plot g={gM} cfg={cfgM} />
      <Plot g={gN} cfg={cfgN} />
      <Txt x={470} y={534} size={6} rotate>
        AUC<sub style={{ fontSize: 4.5 }}>glucose</sub>
      </Txt>
      <Txt x={620} y={537} size={6} rotate>
        inverse AUC<sub style={{ fontSize: 4.5 }}>glucose</sub>
      </Txt>
    </div>
  );
}
